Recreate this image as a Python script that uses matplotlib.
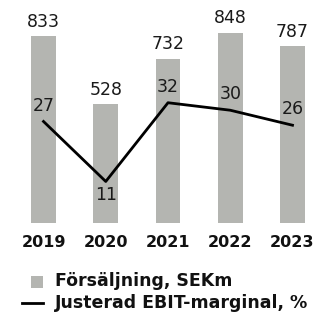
import matplotlib
matplotlib.use("Agg")
import matplotlib.pyplot as plt
from matplotlib.patches import Rectangle
from matplotlib.lines import Line2D

years = ["2019", "2020", "2021", "2022", "2023"]
sales = [833, 528, 732, 848, 787]
margin = [27, 11, 32, 30, 26]
margin_label_above = [True, False, True, True, True]

W, H = 322, 312
DPI = 100
fig = plt.figure(figsize=(W / DPI, H / DPI), dpi=DPI)

bottom_px = 222.7
ax = fig.add_axes([0, (H - bottom_px) / H, 1, bottom_px / H])
ax.set_facecolor("none")
x = list(range(len(years)))
bar_color = "#b4b5b1"
ax.bar(x, sales, width=0.40, color=bar_color, zorder=1)
ax.set_xlim(-0.699, 4.474)
ax.set_ylim(0, 994)
for s in ax.spines.values():
    s.set_visible(False)
ax.set_yticks([])
ax.set_xticks(x)
ax.set_xticklabels(years, fontsize=11.5, fontweight="bold", family="DejaVu Sans", color="#111111")
ax.tick_params(axis="x", length=0, pad=9)

for xi, v in zip(x, sales):
    ax.annotate(str(v), (xi, v), xytext=(0, 6.7), textcoords="offset points",
                ha="center", va="baseline", fontsize=12.5, color="#1a1a1a")

ax2 = ax.twinx()
ax2.set_ylim(0, 59.4)
ax2.set_yticks([])
for s in ax2.spines.values():
    s.set_visible(False)
ax2.plot(x, margin, color="#000000", lw=2.0, zorder=3)
for xi, v, above in zip(x, margin, margin_label_above):
    off = 11.5 if above else -9.5
    ax2.annotate(str(v), (xi, v), xytext=(0, off), textcoords="offset points",
                 ha="center", va="center", fontsize=12.5, color="#1a1a1a")

# legend
def fx(px):
    return px / W

def fy(py):
    return (H - py) / H

fig.add_artist(Rectangle((fx(31), fy(288)), fx(12), 12 / H, transform=fig.transFigure,
                         color=bar_color, lw=0))
fig.add_artist(Line2D([fx(22), fx(43)], [fy(302.5), fy(302.5)], transform=fig.transFigure,
                      color="black", lw=2.0))
fig.text(fx(55), fy(281.5), "Försäljning, SEKm", fontsize=12.5, fontweight="bold",
         ha="left", va="center", color="#111111")
fig.text(fx(55), fy(302.5), "Justerad EBIT-marginal, %", fontsize=12.5, fontweight="bold",
         ha="left", va="center", color="#111111")

fig.savefig("out.png", dpi=DPI)
